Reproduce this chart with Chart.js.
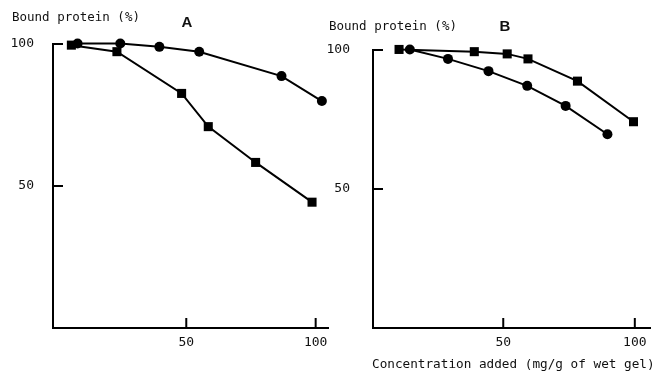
<!DOCTYPE html>
<html lang="en">
<head>
<meta charset="UTF-8">
<title>Bound protein</title>
<script src="https://cdn.jsdelivr.net/npm/chart.js"></script>
<style>
  html, body { margin: 0; padding: 0; background: #fff; }
  body { width: 657px; height: 375px; position: relative; overflow: hidden; }
  .panel { position: absolute; top: 0; }
  #boxA { left: 0; }
  #boxB { left: 320px; }
</style>
</head>
<body>
<div class="panel" id="boxA"><canvas id="chartA" width="335" height="375"></canvas></div>
<div class="panel" id="boxB"><canvas id="chartB" width="337" height="375"></canvas></div>

<script>
// panel A
const concA_circle  = [8, 24.5, 39.6, 55, 86.8, 102.4];
const boundA_circle = [100.2, 100.2, 99, 97.3, 88.7, 79.9];
const concA_square  = [5.6, 23.2, 48.2, 58.5, 76.8, 98.6];
const boundA_square = [99.6, 97.3, 82.6, 70.9, 58.3, 44.3];

// panel B
const concB_square  = [10.4, 39, 51.5, 59.4, 78.2, 99.5];
const boundB_square = [100.2, 99.4, 98.6, 96.8, 88.8, 74.2];
const concB_circle  = [14.5, 29, 44.4, 59.1, 73.7, 89.6];
const boundB_circle = [100.2, 96.8, 92.4, 87.1, 79.9, 69.7];

const xTicks = [50, 100];
const yTicks = [50, 100];
const yTitle = 'Bound protein (%)';
const xTitle = 'Concentration added (mg/g of wet gel)';

const mono = '"DejaVu Sans Mono", "Liberation Mono", monospace';

function pts(xs, ys) {
    return xs.map((x, i) => ({x: x, y: ys[i]}));
}

function series(xs, ys, style) {
    return {
        data: pts(xs, ys),
        showLine: true,
        borderColor: '#000',
        backgroundColor: '#000',
        borderWidth: 2,
        pointStyle: style,
        pointRadius: style === 'rect' ? 6.4 : 5,
        pointBorderWidth: 0,
        clip: false
    };
}

// inward tick marks + texts drawn on the chart
const decor = {
    id: 'decor',
    afterDraw(chart, args, o) {
        const ctx = chart.ctx;
        const xs = chart.scales.x, ys = chart.scales.y;
        const a = chart.chartArea;
        ctx.save();
        ctx.strokeStyle = '#000';
        ctx.lineWidth = 2;
        yTicks.forEach(v => {
            const py = ys.getPixelForValue(v);
            ctx.beginPath();
            ctx.moveTo(a.left, py);
            ctx.lineTo(a.left + o.yLen, py);
            ctx.stroke();
        });
        xTicks.forEach(v => {
            const px = xs.getPixelForValue(v);
            ctx.beginPath();
            ctx.moveTo(px, a.bottom);
            ctx.lineTo(px, a.bottom - 10);
            ctx.stroke();
        });
        ctx.fillStyle = '#111';
        ctx.textBaseline = 'middle';
        ctx.font = '12.5px ' + mono;
        ctx.textAlign = 'left';
        ctx.fillText(yTitle, o.titleX, o.titleY);
        if (o.xTitle) {
            ctx.font = '12.7px ' + mono;
            ctx.fillText(o.xTitle, o.xTitleX, 365);
        }
        ctx.font = 'bold 15px "Liberation Sans", Arial, sans-serif';
        ctx.textAlign = 'center';
        ctx.fillText(o.letter, o.letterX, o.letterY);
        ctx.restore();
    }
};

function makePanel(id, datasets, xMin, xMax, pad, yWidth, labelPad, deco) {
    return new Chart(document.getElementById(id), {
        type: 'scatter',
        data: {datasets: datasets},
        plugins: [decor],
        options: {
            responsive: false,
            animation: false,
            devicePixelRatio: 1,
            layout: {padding: pad},
            plugins: {
                legend: {display: false},
                tooltip: {enabled: false},
                decor: deco
            },
            scales: {
                x: {
                    type: 'linear',
                    min: xMin,
                    max: xMax,
                    afterBuildTicks: s => { s.ticks = xTicks.map(v => ({value: v})); },
                    afterFit: s => { s.height = 47; },
                    grid: {display: false, drawTicks: false},
                    border: {display: true, color: '#000', width: 2},
                    ticks: {
                        color: '#111',
                        padding: 7,
                        maxRotation: 0,
                        font: {family: mono, size: 13}
                    }
                },
                y: {
                    type: 'linear',
                    min: 0,
                    max: 100,
                    afterBuildTicks: s => { s.ticks = yTicks.map(v => ({value: v})); },
                    afterFit: s => { s.width = yWidth; },
                    grid: {display: false, drawTicks: false},
                    border: {display: true, color: '#000', width: 2},
                    ticks: {
                        color: '#111',
                        padding: labelPad,
                        font: {family: mono, size: 13}
                    }
                }
            }
        }
    });
}

makePanel('chartA',
    [series(concA_square, boundA_square, 'rect'), series(concA_circle, boundA_circle, 'circle')],
    -1.5, 105,
    {top: 44, right: 5, bottom: 0, left: 0},
    53, 19,
    {yLen: 10, titleX: 12, titleY: 18, letter: 'A', letterX: 187, letterY: 23});

makePanel('chartB',
    [series(concB_square, boundB_square, 'rect'), series(concB_circle, boundB_circle, 'circle')],
    0.5, 106,
    {top: 50, right: 4, bottom: 0, left: 0},
    53, 23,
    {yLen: 10, titleX: 9, titleY: 27, letter: 'B', letterX: 185, letterY: 27,
     xTitle: xTitle, xTitleX: 52});
</script>
</body>
</html>
